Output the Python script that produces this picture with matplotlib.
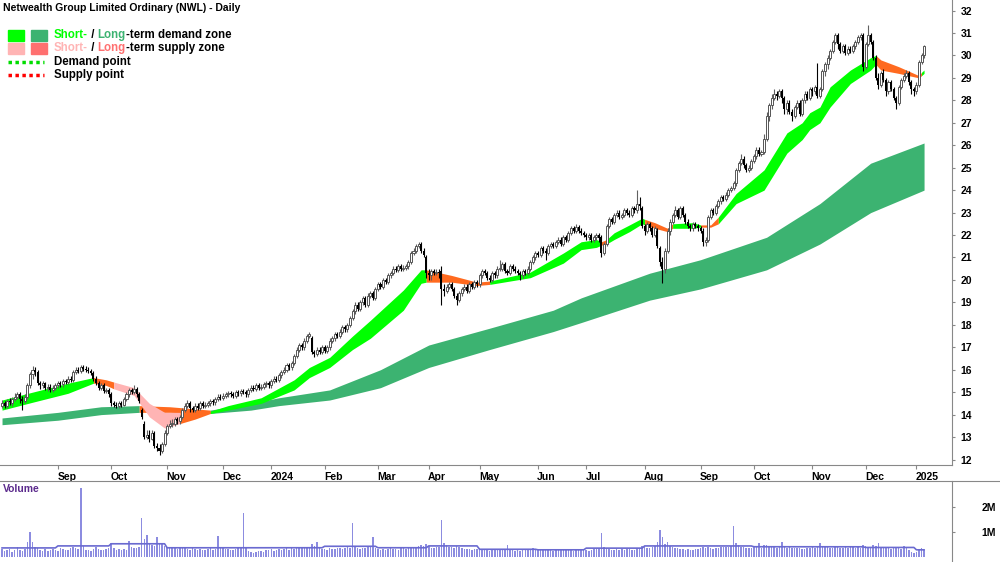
import numpy as np
import pandas as pd
import matplotlib
matplotlib.use('Agg')
import matplotlib.pyplot as plt
from matplotlib.lines import Line2D
from matplotlib.patches import Rectangle
from matplotlib.transforms import ScaledTranslation

W, H = 1000, 562
FONT = ['Liberation Sans', 'DejaVu Sans']
plt.rcParams['font.family'] = FONT

HOLIDAYS = ['2023-12-25', '2023-12-26', '2024-01-01', '2024-01-26', '2024-03-29',
            '2024-04-01', '2024-04-25', '2024-06-10', '2024-12-25', '2024-12-26',
            '2025-01-01']

# daily prices (AUD)
open_ = [
    14.4, 14.5, 14.4, 14.6, 14.5, 14.7, 14.8, 14.9, 14.7, 14.6,
    14.8, 15.3, 15.8, 16.0, 15.9, 15.4, 15.3, 15.4, 15.2, 15.25,
    15.1, 15.2, 15.3, 15.4, 15.35, 15.5, 15.45, 15.6, 15.55, 15.9,
    16.0, 15.95, 16.1, 16.05, 16.0, 15.95, 15.85, 15.6, 15.4, 15.2,
    15.3, 15.05, 15.1, 14.9, 14.5, 14.45, 14.4, 14.5, 14.45, 14.7,
    14.9, 15.1, 15.0, 15.15, 14.9, 14.2, 13.6, 13.0, 13.1, 12.9,
    13.2, 12.6, 12.5, 12.4, 12.7, 13.2, 13.5, 13.6, 13.6, 13.8,
    13.7, 13.9, 14.2, 14.4, 14.5, 14.3, 14.2, 14.4, 14.3, 14.5,
    14.4, 14.45, 14.5, 14.6, 14.55, 14.7, 14.8, 14.75, 14.85, 14.9,
    14.95, 14.9, 14.85, 15.0, 14.95, 15.05, 15.0, 14.9, 15.1, 15.2,
    15.15, 15.3, 15.2, 15.25, 15.35, 15.4, 15.3, 15.5, 15.6, 15.55,
    15.75, 15.9, 16.0, 16.2, 16.1, 16.3, 16.6, 16.9, 17.1, 17.0,
    17.3, 17.5, 17.4, 16.8, 16.7, 16.9, 16.8, 17.0, 16.85, 17.0,
    17.3, 17.4, 17.6, 17.5, 17.7, 17.9, 17.8, 18.0, 18.3, 18.6,
    18.9, 18.7, 19.0, 19.2, 18.9, 19.3, 19.4, 19.2, 19.6, 19.8,
    19.7, 20.0, 19.9, 20.2, 20.3, 20.5, 20.45, 20.6, 20.5, 20.55,
    20.6, 20.8, 21.2, 21.3, 21.5, 21.6, 21.3, 21.0, 20.3, 20.2,
    20.4, 20.3, 20.35, 20.4, 19.6, 19.5, 19.7, 19.8, 19.6, 19.3,
    19.1, 19.4, 19.6, 19.7, 19.5, 19.8, 19.7, 19.9, 19.8, 20.2,
    20.4, 20.3, 20.1, 20.0, 20.3, 20.2, 20.5, 20.5, 20.7, 20.4,
    20.3, 20.6, 20.5, 20.4, 20.3, 20.2, 20.4, 20.3, 20.5, 20.8,
    21.0, 21.2, 21.1, 21.4, 21.3, 21.2, 21.5, 21.6, 21.5, 21.7,
    21.8, 21.6, 21.9, 21.8, 22.1, 22.3, 22.2, 22.35, 22.2, 22.1,
    22.0, 21.9, 22.0, 21.8, 21.9, 22.0, 21.9, 21.2, 21.6, 22.4,
    22.7, 22.6, 22.9, 23.0, 22.8, 22.9, 23.1, 23.0, 22.9, 23.2,
    23.1, 23.4, 23.2, 22.4, 22.2, 22.5, 22.3, 22.0, 22.2, 21.4,
    20.8, 20.5, 21.3, 22.2, 22.6, 22.9, 23.1, 22.8, 23.2, 22.9,
    22.6, 22.4, 22.3, 22.5, 22.4, 22.3, 22.2, 21.7, 21.8, 22.8,
    23.1, 23.0, 23.3, 23.5, 23.7, 23.6, 23.8, 24.0, 24.1, 24.3,
    24.9, 25.2, 25.4, 25.1, 24.9, 25.0, 25.3, 25.5, 25.8, 25.6,
    25.7, 26.3, 27.3, 27.8, 28.1, 28.3, 28.2, 28.4, 28.1, 27.6,
    27.9, 27.5, 27.3, 27.7, 27.9, 27.4, 28.0, 28.3, 28.1, 28.5,
    28.4, 28.6, 28.2, 28.5, 29.3, 29.6, 29.9, 30.2, 30.6, 30.9,
    30.5, 30.2, 30.4, 30.1, 30.3, 30.2, 30.4, 30.6, 30.8, 30.9,
    29.5, 30.5, 30.9, 30.6, 29.9, 29.0, 28.7, 29.2, 28.9, 28.4,
    28.8, 28.5, 28.1, 27.9, 28.6, 28.9, 29.1, 29.2, 28.8, 28.5,
    28.4, 28.7, 29.7, 30.0,
]
high = [
    14.65, 14.6, 14.7, 14.75, 14.8, 14.95, 15.0, 15.0, 14.85, 14.9,
    15.4, 15.9, 16.15, 16.1, 16.0, 15.5, 15.5, 15.45, 15.35, 15.35,
    15.3, 15.4, 15.5, 15.5, 15.6, 15.6, 15.7, 15.7, 16.0, 16.1,
    16.1, 16.2, 16.2, 16.15, 16.1, 16.05, 15.95, 15.7, 15.5, 15.4,
    15.4, 15.2, 15.2, 15.0, 14.6, 14.55, 14.6, 14.6, 14.8, 15.0,
    15.2, 15.2, 15.3, 15.25, 15.0, 14.3, 13.7, 13.3, 13.3, 13.3,
    13.25, 12.75, 12.7, 12.8, 13.3, 13.6, 13.75, 13.8, 13.9, 13.9,
    14.0, 14.3, 14.5, 14.65, 14.6, 14.4, 14.5, 14.5, 14.6, 14.6,
    14.55, 14.6, 14.7, 14.7, 14.8, 14.9, 14.9, 14.95, 15.0, 15.05,
    15.05, 15.0, 15.1, 15.1, 15.15, 15.15, 15.1, 15.2, 15.3, 15.3,
    15.4, 15.4, 15.35, 15.45, 15.5, 15.5, 15.6, 15.7, 15.7, 15.85,
    16.0, 16.1, 16.3, 16.3, 16.4, 16.7, 17.0, 17.2, 17.2, 17.4,
    17.6, 17.7, 17.5, 16.9, 17.0, 17.0, 17.1, 17.1, 17.1, 17.4,
    17.5, 17.7, 17.7, 17.8, 18.0, 18.0, 18.1, 18.4, 18.7, 19.0,
    19.0, 19.1, 19.3, 19.3, 19.4, 19.5, 19.5, 19.7, 19.9, 19.9,
    20.1, 20.1, 20.3, 20.4, 20.6, 20.6, 20.7, 20.7, 20.65, 20.7,
    20.9, 21.3, 21.4, 21.6, 21.7, 21.7, 21.4, 21.1, 20.5, 20.5,
    20.5, 20.5, 20.5, 20.6, 19.8, 19.8, 19.9, 19.9, 19.7, 19.4,
    19.5, 19.7, 19.8, 19.8, 19.9, 19.9, 20.0, 20.0, 20.3, 20.5,
    20.5, 20.4, 20.2, 20.4, 20.4, 20.6, 20.9, 20.8, 20.8, 20.5,
    20.7, 20.7, 20.6, 20.5, 20.4, 20.5, 20.5, 20.6, 20.9, 21.1,
    21.3, 21.3, 21.5, 21.5, 21.4, 21.6, 21.7, 21.7, 21.8, 21.9,
    21.9, 22.0, 22.0, 22.2, 22.4, 22.4, 22.5, 22.45, 22.3, 22.2,
    22.1, 22.1, 22.1, 22.0, 22.1, 22.1, 22.0, 21.7, 22.5, 22.8,
    22.8, 23.0, 23.1, 23.1, 23.0, 23.2, 23.2, 23.1, 23.3, 23.3,
    24.0, 23.7, 23.3, 22.5, 22.6, 22.6, 22.4, 22.4, 22.3, 21.5,
    21.0, 21.4, 22.3, 22.7, 23.0, 23.3, 23.2, 23.3, 23.3, 23.0,
    22.7, 22.5, 22.6, 22.6, 22.5, 22.4, 22.3, 21.9, 22.9, 23.2,
    23.2, 23.4, 23.6, 23.8, 23.8, 23.9, 24.1, 24.2, 24.4, 25.0,
    25.3, 25.6, 25.5, 25.2, 25.1, 25.4, 25.6, 25.9, 25.9, 25.8,
    26.5, 27.5, 27.9, 28.3, 28.5, 28.4, 28.5, 28.5, 28.2, 28.0,
    28.0, 27.6, 27.8, 28.0, 28.0, 28.1, 28.4, 28.4, 28.6, 28.6,
    28.7, 29.65, 28.6, 29.4, 29.7, 30.0, 30.3, 30.7, 31.0, 31.0,
    30.6, 30.5, 30.5, 30.4, 30.4, 30.5, 30.7, 30.9, 31.0, 31.0,
    30.6, 31.35, 31.0, 30.7, 30.0, 29.2, 29.3, 29.4, 29.0, 28.9,
    28.9, 28.6, 28.2, 28.7, 29.0, 29.2, 29.35, 29.3, 28.9, 28.6,
    28.8, 29.8, 30.1, 30.45,
]
low = [
    14.3, 14.3, 14.3, 14.45, 14.4, 14.6, 14.7, 14.5, 14.2, 14.5,
    14.7, 15.2, 15.6, 15.7, 15.3, 15.15, 15.2, 15.1, 15.05, 15.0,
    15.0, 15.1, 15.2, 15.25, 15.25, 15.35, 15.35, 15.45, 15.45, 15.8,
    15.85, 15.85, 15.95, 15.9, 15.85, 15.75, 15.5, 15.3, 15.1, 15.1,
    14.95, 14.95, 14.8, 14.4, 14.35, 14.3, 14.3, 14.35, 14.4, 14.6,
    14.8, 14.9, 14.9, 14.8, 14.5, 13.8, 12.9, 12.9, 12.8, 12.85,
    12.5, 12.4, 12.2, 12.3, 12.6, 13.1, 13.4, 13.45, 13.5, 13.6,
    13.6, 13.8, 14.1, 14.3, 14.1, 14.1, 14.1, 14.2, 14.2, 14.3,
    14.3, 14.35, 14.4, 14.45, 14.45, 14.6, 14.65, 14.65, 14.75, 14.8,
    14.8, 14.75, 14.75, 14.85, 14.85, 14.9, 14.8, 14.8, 15.0, 15.05,
    15.05, 15.1, 15.1, 15.15, 15.25, 15.2, 15.2, 15.4, 15.45, 15.45,
    15.65, 15.8, 15.9, 16.0, 16.0, 16.2, 16.5, 16.8, 16.9, 16.9,
    17.2, 17.4, 16.7, 16.55, 16.6, 16.7, 16.7, 16.75, 16.75, 16.9,
    17.2, 17.3, 17.4, 17.4, 17.6, 17.7, 17.7, 17.9, 18.2, 18.5,
    18.6, 18.6, 18.9, 18.8, 18.8, 19.2, 19.1, 19.1, 19.5, 19.6,
    19.6, 19.8, 19.8, 20.1, 20.2, 20.35, 20.35, 20.4, 20.4, 20.45,
    20.5, 20.7, 21.1, 21.2, 21.4, 21.2, 21.0, 20.1, 20.0, 20.0,
    20.2, 20.2, 20.1, 18.9, 19.3, 19.4, 19.6, 19.5, 19.2, 18.9,
    19.0, 19.3, 19.5, 19.4, 19.4, 19.6, 19.6, 19.7, 19.7, 20.1,
    20.2, 20.0, 19.9, 19.9, 20.1, 20.1, 20.4, 20.4, 20.3, 20.2,
    20.2, 20.4, 20.3, 20.2, 20.0, 20.1, 20.2, 20.2, 20.4, 20.7,
    20.9, 21.0, 21.0, 21.2, 20.9, 21.1, 21.4, 21.4, 21.4, 21.6,
    21.5, 21.5, 21.7, 21.7, 22.0, 22.1, 22.1, 22.1, 22.0, 21.9,
    21.8, 21.8, 21.7, 21.7, 21.8, 21.7, 21.0, 21.1, 21.5, 22.3,
    22.5, 22.5, 22.8, 22.7, 22.7, 22.8, 22.9, 22.8, 22.8, 23.0,
    23.0, 23.1, 22.3, 22.0, 22.1, 22.2, 21.9, 21.9, 21.4, 20.6,
    19.85, 20.3, 21.2, 22.0, 22.5, 22.8, 22.7, 22.7, 22.8, 22.5,
    22.3, 22.2, 22.2, 22.3, 22.2, 22.1, 21.5, 21.5, 21.7, 22.7,
    22.9, 22.9, 23.2, 23.4, 23.5, 23.5, 23.7, 23.9, 24.0, 24.2,
    24.8, 25.1, 25.0, 24.8, 24.8, 24.9, 25.2, 25.4, 25.5, 25.5,
    25.6, 26.2, 27.1, 27.6, 28.0, 28.0, 28.1, 27.9, 27.4, 27.4,
    27.4, 27.1, 27.2, 27.6, 27.3, 27.3, 27.9, 28.0, 28.0, 28.2,
    28.3, 28.1, 28.1, 28.4, 29.1, 29.4, 29.8, 30.1, 30.5, 30.3,
    30.1, 30.1, 30.0, 30.0, 30.1, 30.1, 30.3, 30.5, 30.7, 29.3,
    29.4, 30.4, 30.5, 29.8, 28.9, 28.5, 28.6, 28.8, 28.2, 28.3,
    28.4, 28.0, 27.6, 27.8, 28.5, 28.8, 29.0, 28.7, 28.3, 28.2,
    28.3, 28.6, 29.6, 29.9,
]
close = [
    14.5, 14.4, 14.6, 14.55, 14.7, 14.8, 14.9, 14.7, 14.6, 14.8,
    15.3, 15.8, 16.0, 15.9, 15.4, 15.3, 15.4, 15.2, 15.25, 15.1,
    15.2, 15.3, 15.4, 15.35, 15.5, 15.45, 15.6, 15.55, 15.9, 16.0,
    15.95, 16.1, 16.05, 16.0, 15.95, 15.85, 15.6, 15.4, 15.2, 15.3,
    15.05, 15.1, 14.9, 14.5, 14.45, 14.4, 14.5, 14.45, 14.7, 14.9,
    15.1, 15.0, 15.15, 14.9, 14.6, 13.9, 13.0, 13.1, 12.9, 13.2,
    12.6, 12.5, 12.4, 12.7, 13.2, 13.5, 13.6, 13.6, 13.8, 13.7,
    13.9, 14.2, 14.4, 14.5, 14.3, 14.2, 14.4, 14.3, 14.5, 14.4,
    14.45, 14.5, 14.6, 14.55, 14.7, 14.8, 14.75, 14.85, 14.9, 14.95,
    14.9, 14.85, 15.0, 14.95, 15.05, 15.0, 14.9, 15.1, 15.2, 15.15,
    15.3, 15.2, 15.25, 15.35, 15.4, 15.3, 15.5, 15.6, 15.55, 15.75,
    15.9, 16.0, 16.2, 16.1, 16.3, 16.6, 16.9, 17.1, 17.0, 17.3,
    17.5, 17.6, 16.8, 16.7, 16.9, 16.8, 17.0, 16.85, 17.0, 17.3,
    17.4, 17.6, 17.5, 17.7, 17.9, 17.8, 18.0, 18.3, 18.6, 18.9,
    18.7, 19.0, 19.2, 18.9, 19.3, 19.4, 19.2, 19.6, 19.8, 19.7,
    20.0, 19.9, 20.2, 20.3, 20.5, 20.45, 20.6, 20.5, 20.55, 20.6,
    20.8, 21.2, 21.3, 21.5, 21.6, 21.3, 21.1, 20.3, 20.2, 20.4,
    20.3, 20.35, 20.3, 19.6, 19.5, 19.7, 19.8, 19.6, 19.3, 19.1,
    19.4, 19.6, 19.7, 19.5, 19.8, 19.7, 19.9, 19.8, 20.2, 20.4,
    20.3, 20.1, 20.0, 20.3, 20.2, 20.5, 20.5, 20.7, 20.4, 20.3,
    20.6, 20.5, 20.4, 20.3, 20.2, 20.4, 20.3, 20.5, 20.8, 21.0,
    21.2, 21.1, 21.4, 21.3, 21.2, 21.5, 21.6, 21.5, 21.7, 21.8,
    21.6, 21.9, 21.8, 22.1, 22.3, 22.2, 22.35, 22.2, 22.1, 22.0,
    21.9, 22.0, 21.8, 21.9, 22.0, 21.85, 21.2, 21.6, 22.4, 22.7,
    22.6, 22.9, 23.0, 22.8, 22.9, 23.1, 23.0, 22.9, 23.2, 23.1,
    23.4, 23.3, 22.4, 22.2, 22.5, 22.3, 22.0, 22.3, 21.5, 20.8,
    20.5, 21.3, 22.2, 22.6, 22.9, 23.1, 22.8, 23.2, 22.9, 22.6,
    22.4, 22.3, 22.5, 22.4, 22.3, 22.2, 21.7, 21.8, 22.8, 23.1,
    23.0, 23.3, 23.5, 23.7, 23.6, 23.8, 24.0, 24.1, 24.3, 24.9,
    25.2, 25.4, 25.1, 24.9, 25.0, 25.3, 25.5, 25.8, 25.6, 25.7,
    26.3, 27.3, 27.8, 28.1, 28.3, 28.2, 28.4, 28.1, 27.6, 27.9,
    27.5, 27.3, 27.7, 27.9, 27.4, 28.0, 28.3, 28.1, 28.5, 28.4,
    28.6, 28.2, 28.5, 29.3, 29.6, 29.9, 30.2, 30.6, 30.9, 30.5,
    30.2, 30.4, 30.1, 30.3, 30.2, 30.4, 30.6, 30.8, 30.9, 29.5,
    30.5, 30.9, 30.6, 29.9, 29.0, 28.7, 29.2, 28.9, 28.4, 28.8,
    28.5, 28.1, 27.9, 28.6, 28.9, 29.1, 29.2, 28.8, 28.5, 28.4,
    28.7, 29.7, 30.0, 30.4,
]
# daily volume, thousands of shares
volume_k = [
    310, 250, 280, 330, 220, 270, 390, 300, 260, 340,
    620, 1010, 600, 420, 380, 300, 260, 310, 240, 280,
    330, 290, 260, 350, 310, 270, 300, 380, 420, 360,
    330, 2750, 450, 300, 280, 260, 320, 390, 340, 290,
    300, 310, 350, 560, 380, 300, 330, 280, 320, 300,
    660, 420, 350, 380, 410, 1550, 720, 900, 520, 480,
    430, 800, 560, 520, 460, 410, 380, 350, 420, 330,
    360, 400, 390, 340, 300, 360, 320, 280, 310, 300,
    290, 330, 370, 300, 340, 850, 380, 420, 330, 310,
    300, 280, 340, 360, 400, 1750, 380, 250, 220, 180,
    200, 230, 250, 210, 270, 290, 320, 260, 300, 310,
    280, 330, 360, 300, 390, 340, 380, 420, 360, 350,
    400, 380, 520, 460, 600, 380, 340, 320, 300, 360,
    330, 310, 350, 370, 330, 360, 400, 380, 1350, 420,
    350, 330, 380, 360, 400, 420, 800, 380, 340, 300,
    320, 300, 340, 360, 330, 310, 290, 350, 370, 330,
    380, 400, 420, 390, 430, 480, 450, 520, 430, 380,
    360, 400, 420, 1500, 560, 480, 420, 400, 380, 450,
    390, 360, 340, 330, 310, 300, 320, 340, 360, 290,
    300, 280, 260, 320, 310, 290, 300, 340, 310, 500,
    280, 270, 250, 300, 260, 280, 310, 290, 330, 350,
    320, 300, 290, 280, 310, 270, 290, 260, 300, 280,
    270, 290, 310, 300, 280, 260, 290, 310, 270, 300,
    280, 260, 300, 320, 340, 380, 950, 420, 360, 330,
    300, 280, 310, 290, 320, 300, 340, 310, 280, 300,
    380, 360, 450, 400, 350, 380, 420, 460, 620, 1100,
    800, 520, 600, 450, 400, 380, 350, 330, 320, 300,
    310, 290, 300, 340, 320, 380, 420, 380, 400, 360,
    330, 350, 380, 400, 420, 390, 410, 450, 1250, 560,
    480, 420, 400, 380, 360, 350, 400, 420, 550, 380,
    500, 480, 450, 420, 400, 380, 390, 600, 420, 380,
    400, 380, 360, 350, 370, 330, 340, 380, 360, 400,
    380, 420, 550, 460, 420, 400, 380, 360, 420, 400,
    380, 360, 400, 380, 420, 390, 370, 400, 380, 500,
    450, 420, 400, 480, 460, 550, 420, 400, 380, 350,
    330, 360, 420, 380, 340, 450, 380, 280, 200, 180,
    220, 300, 350, 280,
]

# demand / supply zones, read at bar positions
long_idx = [0, 22, 39, 54, 66, 82, 98, 109, 129, 149, 168, 192, 217, 228, 255, 275, 301, 322, 342, 363]
long_top = [13.85, 14.1, 14.35, 14.4, 14.35, 14.2, 14.5, 14.75, 15.1, 16.0, 17.1, 17.85, 18.65, 19.2, 20.3, 20.9, 21.9, 23.4, 25.2, 26.1]
long_bot = [13.55, 13.75, 14.0, 14.1, 14.1, 14.05, 14.2, 14.4, 14.65, 15.2, 16.1, 16.9, 17.7, 18.1, 19.1, 19.6, 20.45, 21.6, 23.0, 24.0]
long_state = 'dddss' + 'd' * 15

short_idx = [0, 12, 26, 36, 41, 44, 52, 58, 64, 70,
             76, 82, 89, 102, 115, 121, 129, 138, 145, 158,
             165, 167, 177, 187, 192, 208, 221, 228, 234, 236,
             238, 241, 247, 252, 253, 257, 262, 264, 272, 275,
             279, 282, 289, 300, 309, 315, 318, 322, 326, 334,
             342, 344, 346, 353, 361, 362, 363]
short_top = [14.65, 15.0, 15.4, 15.65, 15.55, 15.45, 15.2, 14.5, 14.1, 14.1,
             14.1, 14.15, 14.4, 14.75, 15.55, 16.1, 16.55, 17.5, 18.2, 19.55,
             20.45, 20.45, 20.2, 19.9, 19.95, 20.35, 21.2, 21.7, 21.8, 21.7,
             21.8, 22.1, 22.45, 22.75, 22.7, 22.55, 22.3, 22.5, 22.55, 22.45,
             22.45, 22.8, 23.85, 24.9, 26.55, 27.0, 27.45, 27.7, 28.6, 29.35,
             29.9, 30.0, 29.8, 29.5, 29.1, 29.25, 29.35]
short_bot = [14.2, 14.55, 14.95, 15.4, 15.3, 15.15, 14.85, 13.9, 13.4, 13.6,
             13.8, 14.05, 14.2, 14.5, 15.1, 15.65, 16.1, 16.9, 17.4, 18.65,
             19.85, 19.9, 19.9, 19.75, 19.8, 20.1, 20.75, 21.35, 21.45, 21.55,
             21.6, 21.8, 22.15, 22.5, 22.45, 22.3, 22.15, 22.3, 22.3, 22.35,
             22.35, 22.5, 23.4, 24.0, 25.65, 26.25, 26.7, 27.0, 27.7, 28.75,
             29.35, 29.6, 29.35, 29.2, 29.0, 29.1, 29.2]
short_state = ('dddsspppps' + 'sdddddddddd' + 'sss' + 'ddddd' + 's' + 'dddd'
               + 'sss' + 'dd' + 'ss' + 'dddddddddd' + 'ssss' + 'dd')

SHORT_COLORS = {'d': '#00FF00', 's': '#FF6A1F', 'p': '#FFB4B4'}
LONG_COLORS = {'d': '#3CB371', 's': '#FF6A1F'}

dates = pd.bdate_range('2023-08-02', '2025-01-07', freq='C', holidays=HOLIDAYS)
n = len(close)
dates = dates[:n]
x = np.arange(n)
o = np.array(open_)
hi = np.array(high)
lo = np.array(low)
c = np.array(close)
vol = np.array(volume_k) * 1000.0


def draw_zone(ax, idx, top, bot, state, colors):
    idx = np.asarray(idx)
    top = np.asarray(top)
    bot = np.asarray(bot)
    k = 0
    while k < len(idx) - 1:
        j = k
        while j + 1 < len(idx) - 1 and state[j + 1] == state[k]:
            j += 1
        ax.fill_between(idx[k:j + 2], bot[k:j + 2], top[k:j + 2],
                        color=colors[state[k]], lw=0, zorder=1)
        k = j + 1


fig = plt.figure(figsize=(W / 100, H / 100), dpi=100)
ax = fig.add_axes([0, 97 / H, 952 / W, 465 / H])
axv = fig.add_axes([0, 0, 952 / W, 81 / H])

draw_zone(ax, long_idx, long_top, long_bot, long_state, LONG_COLORS)
draw_zone(ax, short_idx, short_top, short_bot, short_state, SHORT_COLORS)

up = c >= o
ax.vlines(x[up], lo[up], hi[up], color='#606060', lw=0.8, zorder=3)
ax.vlines(x[~up], lo[~up], hi[~up], color='black', lw=0.8, zorder=3)
ax.bar(x[up], np.maximum(c - o, 0.02)[up], bottom=o[up], width=0.8,
       facecolor='white', edgecolor='#555555', lw=0.7, zorder=4)
ax.bar(x[~up], (o - c)[~up], bottom=c[~up], width=0.8, color='black', lw=0, zorder=4)

ax.set_xlim(-0.8, 374)
ax.set_ylim(11.755, 32.47)
ax.set_facecolor('none')

# month ticks
months = dates.to_period('M')
starts = [i for i in range(1, n) if months[i] != months[i - 1]]
labels = [str(dates[i].year) if dates[i].month == 1 else dates[i].strftime('%b') for i in starts]
for a in (ax, axv):
    a.set_xticks(starts)
    a.set_xlim(-0.8, 374)
ax.set_xticklabels(labels, fontsize=7.5, fontweight='bold')
ax.tick_params(axis='x', direction='out', length=3, pad=2, color='#888888')
offset = ScaledTranslation(-0.5 / 72, 0, fig.dpi_scale_trans)
for t in ax.get_xticklabels():
    t.set_ha('left')
    t.set_transform(t.get_transform() + offset)

ax.set_yticks(range(12, 33))
ax.yaxis.tick_right()
ax.tick_params(axis='y', direction='out', length=2, pad=4, labelsize=7.5, color='#888888')
for t in ax.get_yticklabels():
    t.set_fontweight('bold')
for s in ('top', 'left'):
    ax.spines[s].set_visible(False)
for s in ('bottom', 'right'):
    ax.spines[s].set_color('#888888')
    ax.spines[s].set_linewidth(0.8)

# volume
axv.bar(x, vol, width=0.6, color='#8C8CE0', lw=0, zorder=2)
vs = pd.Series(vol, index=dates)
monthly = vs.groupby(months).transform('mean')
axv.plot(x, monthly.values, color='#6A6AD0', lw=1.2, zorder=3)
axv.set_ylim(-0.2e6, 3.04e6)
axv.set_yticks([1e6, 2e6])
axv.set_yticklabels(['1M', '2M'], fontsize=7.5, fontweight='bold')
axv.yaxis.tick_right()
axv.tick_params(axis='y', direction='out', length=2, pad=19, color='#888888')
axv.tick_params(axis='x', bottom=False, labelbottom=False)
for s in ('left', 'bottom', 'top'):
    axv.spines[s].set_visible(False)
axv.spines['right'].set_color('#888888')
axv.spines['right'].set_linewidth(0.8)
fig.add_artist(Line2D([0, 1], [1 - 481 / H, 1 - 481 / H], color='#888888', lw=0.8))


def fpos(px, py):
    return px / W, 1 - py / H


fig.text(*fpos(3, 489), 'Volume', fontsize=7.5, fontweight='bold', color='#5B2A8C', va='center')

# title and legend
fig.text(*fpos(3, 8), 'Netwealth Group Limited Ordinary (NWL) - Daily',
         fontsize=7.5, fontweight='bold', va='center')

renderer = fig.canvas.get_renderer()


def colored_text(px, py, parts):
    for s, col in parts:
        t = fig.text(*fpos(px, py), s, color=col, fontsize=8.3, fontweight='bold', va='center')
        px += t.get_window_extent(renderer=renderer).width


for px, py, col in [(8, 30, '#00FF00'), (31, 30, '#3CB371'), (8, 43, '#FFB4B4'), (31, 43, '#FF7070')]:
    fig.add_artist(Rectangle(fpos(px, py + 11), 16 / W, 11 / H, color=col, transform=fig.transFigure))

colored_text(54, 35, [('Short-', '#00FF00'), (' / ', 'black'), ('Long', '#3CB371'), ('-term demand zone', 'black')])
colored_text(54, 48, [('Short-', '#FFB4B4'), (' / ', 'black'), ('Long', '#FF7070'), ('-term supply zone', 'black')])
colored_text(54, 62, [('Demand point', 'black')])
colored_text(54, 75, [('Supply point', 'black')])
for py, col in [(62, '#00DD00'), (75, '#FF0000')]:
    xa, ya = fpos(8, py)
    xb, _ = fpos(44, py)
    fig.add_artist(Line2D([xa, xb], [ya, ya], color=col, lw=2.5, ls=(0, (1, 1))))

fig.savefig('out.png', dpi=100)
